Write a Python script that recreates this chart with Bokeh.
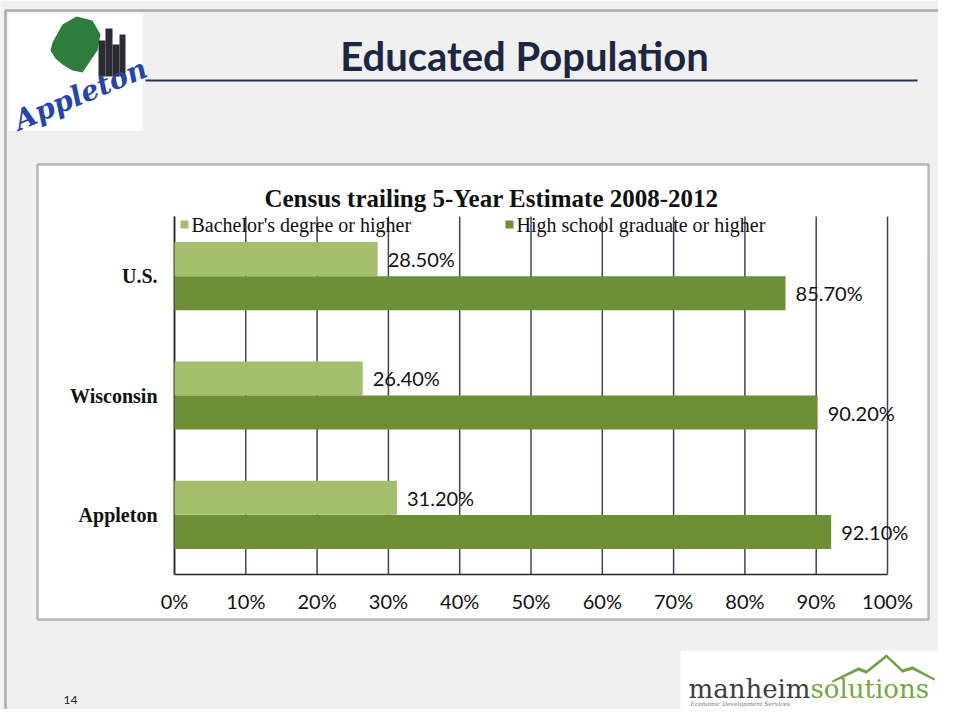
from bokeh.plotting import figure
from bokeh.models import Range1d, Label, BoxAnnotation, PolyAnnotation, ColumnDataSource
from bokeh.core.properties import value
from bokeh.embed import file_html
from bokeh.resources import INLINE

# ---- data ----
categories = ["Appleton", "Wisconsin", "U.S."]
bachelors = [31.2, 26.4, 28.5]
high_school = [92.1, 90.2, 85.7]
series_names = ["Bachelor's degree or higher", "High school graduate or higher"]
x_ticks = [0, 10, 20, 30, 40, 50, 60, 70, 80, 90, 100]
x_tick_labels = ["0%", "10%", "20%", "30%", "40%", "50%", "60%", "70%", "80%", "90%", "100%"]
chart_title = "Census trailing 5-Year Estimate 2008-2012"
slide_title = "Educated Population"

LIGHT = "#a4bf6b"
DARK = "#6d9037"
GRID = "#3d4658"
BG = "#f0f0f0"
W, H = 938, 709

# layout: pixel of 0% / 100%, and of category band edges
X0_PX, PX_PER_PCT = 174.0, 7.13
Y0_PX, PX_PER_CAT = 574.0, 119.33


def sx(px):  # pixel x -> screen x
    return px


def sy(py):  # pixel y (from top) -> screen y (from bottom)
    return H - py


def py2data(py):
    return (Y0_PX - py) / PX_PER_CAT


def px2data(px):
    return (px - X0_PX) / PX_PER_PCT


ncat = len(categories)
ycat = [i + 0.5 for i in range(ncat)]
off, bh = 0.143, 0.285

p = figure(width=W, height=H, output_backend="svg", toolbar_location=None,
           x_axis_location=None, y_axis_location=None, title=None,
           x_range=Range1d(px2data(0), px2data(W)),
           y_range=Range1d(py2data(H), py2data(0)),
           min_border=0, min_border_left=0, min_border_right=0,
           min_border_top=0, min_border_bottom=0)
p.grid.visible = False
p.outline_line_color = None
p.background_fill_color = BG
p.border_fill_color = BG


def box(l, r, t, b, **kw):
    p.add_layout(BoxAnnotation(left=sx(l), right=sx(r), top=sy(t), bottom=sy(b),
                               left_units="screen", right_units="screen",
                               top_units="screen", bottom_units="screen", **kw))


# slide border and chart panel
box(5, 960, 10, 740, fill_alpha=0, line_color="#111111", line_width=2.5, level="image")
box(37, 928, 164, 619, fill_color="white", fill_alpha=1.0, line_color="#222222",
    line_width=2.5, level="image")

# gridlines and axis lines
p.segment(x0=x_ticks, x1=x_ticks, y0=[0] * len(x_ticks), y1=[ncat] * len(x_ticks),
          line_color=GRID, line_width=1.5)
p.segment(x0=[0, 0], x1=[100, 0], y0=[0, 0], y1=[0, ncat],
          line_color="#2a2a2a", line_width=1.6)

# bars
src = ColumnDataSource(dict(
    y_b=[y + off for y in ycat], y_h=[y - off for y in ycat],
    bach=bachelors, hs=high_school,
    bach_txt=["%.2f%%" % v for v in bachelors],
    hs_txt=["%.2f%%" % v for v in high_school],
))
p.hbar(y="y_b", right="bach", left=0, height=bh, source=src,
       fill_color=LIGHT, line_color=None)
p.hbar(y="y_h", right="hs", left=0, height=bh, source=src,
       fill_color=DARK, line_color=None)

# value labels
for col, txt, yc in (("bach", "bach_txt", "y_b"), ("hs", "hs_txt", "y_h")):
    p.text(x=col, y=yc, text=txt, source=src, x_offset=10,
           text_baseline="middle", text_align="left",
           text_font=value("Lato"), text_font_size="20px", text_color="#111111")

# tick labels (x)
p.text(x=x_ticks, y=[py2data(600)] * len(x_ticks), text=x_tick_labels,
       text_align="center", text_baseline="middle",
       text_font=value("Lato"), text_font_size="20px", text_color="#111111")

# category labels (y)
p.text(x=[px2data(157)] * ncat, y=ycat, text=categories,
       text_align="right", text_baseline="middle",
       text_font=value("Liberation Serif"), text_font_style="bold",
       text_font_size="20px", text_color="#111111")

# chart title
p.add_layout(Label(x=sx(491), y=sy(198), x_units="screen", y_units="screen",
                   text=chart_title, text_align="center", text_baseline="middle",
                   text_font="Liberation Serif", text_font_style="bold",
                   text_font_size="25px", text_color="#111111"))

# legend
for (lx, tx), name, colr in zip(((180, 191), (505, 516)), series_names, (LIGHT, DARK)):
    box(lx, lx + 8, 220, 228, fill_color=colr, fill_alpha=1, line_color=None)
    p.add_layout(Label(x=sx(tx), y=sy(224), x_units="screen", y_units="screen",
                       text=name, text_align="left", text_baseline="middle",
                       text_font="Liberation Serif", text_font_size="20px",
                       text_color="#111111"))

# slide title and rule
p.add_layout(Label(x=sx(524), y=sy(55), x_units="screen", y_units="screen",
                   text=slide_title, text_align="center", text_baseline="middle",
                   text_font="Lato", text_font_style="bold",
                   text_font_size="40px", text_color="#1c2643"))
box(145, 917, 79, 81, fill_color="#2a3450", fill_alpha=1, line_color=None)

# Appleton logo (approximate)
box(8, 142, 13, 130, fill_color="white", fill_alpha=1, line_color=None)
p.add_layout(PolyAnnotation(xs=[sx(v) for v in (52, 62, 76, 92, 100, 97, 90, 82, 72, 62, 55, 50)],
                            ys=[sy(v) for v in (42, 24, 16, 20, 34, 50, 60, 72, 70, 64, 58, 50)],
                            xs_units="screen", ys_units="screen",
                            fill_color="#2f7d3a", fill_alpha=1, line_color=None))
for bx0, bx1, btop in ((98, 105, 40), (105, 112, 28), (112, 119, 44), (119, 125, 34)):
    box(bx0, bx1, btop, 76, fill_color="#2b2b33", fill_alpha=1, line_color=None)
p.add_layout(Label(x=sx(80), y=sy(94), x_units="screen", y_units="screen",
                   text="Appleton", text_align="center", text_baseline="middle",
                   angle=0.40, text_font="DejaVu Serif", text_font_style="bold italic",
                   text_font_size="28px", text_color="#2546a6"))

# page number
p.add_layout(Label(x=sx(70), y=sy(699), x_units="screen", y_units="screen",
                   text="14", text_align="center", text_baseline="middle",
                   text_font="Lato", text_font_size="12px", text_color="#222222"))

# manheim solutions logo
box(680, 960, 650, 740, fill_color="white", fill_alpha=1, line_color=None)
p.add_layout(PolyAnnotation(xs=[sx(v) for v in (832, 858, 866, 886, 902, 912, 934, 934, 912, 902, 886, 866, 858, 832)],
                            ys=[sy(v) for v in (680, 667, 670, 654, 669, 666, 678, 680, 669, 672, 657, 673, 670, 682)],
                            xs_units="screen", ys_units="screen",
                            fill_color="#6f9d45", fill_alpha=1, line_color="#6f9d45", line_width=1))
p.add_layout(Label(x=sx(688), y=sy(688), x_units="screen", y_units="screen",
                   text="manheim", text_align="left", text_baseline="middle",
                   text_font="DejaVu Serif", text_font_size="26px", text_color="#3e3e3e"))
p.add_layout(Label(x=sx(810), y=sy(688), x_units="screen", y_units="screen",
                   text="solutions", text_align="left", text_baseline="middle",
                   text_font="DejaVu Serif", text_font_size="26px", text_color="#78a545"))
p.add_layout(Label(x=sx(690), y=sy(703), x_units="screen", y_units="screen",
                   text="Economic Development Services", text_align="left",
                   text_baseline="middle", text_font="DejaVu Serif",
                   text_font_style="italic", text_font_size="6px", text_color="#777777"))

open("out.html", "w").write(file_html(p, INLINE))
